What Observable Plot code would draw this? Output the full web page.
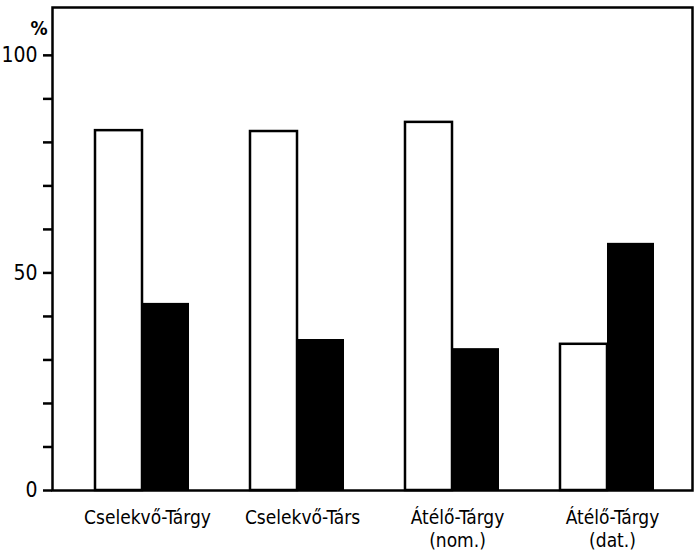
<!DOCTYPE html>
<html>
<head>
<meta charset="utf-8">
<script src="https://cdn.jsdelivr.net/npm/d3@7"></script>
<script src="https://cdn.jsdelivr.net/npm/@observablehq/plot@0.6"></script>
<style>
  body { margin: 0; background: white; }
</style>
</head>
<body>
<div id="chart"></div>
<script>
const categories = ["Cselekvő-Tárgy", "Cselekvő-Társ", "Átélő-Tárgy\n(nom.)", "Átélő-Tárgy\n(dat.)"];
const whiteValues = [82.7, 82.5, 84.6, 33.6];
const blackValues = [43.0, 34.7, 32.6, 56.8];
const yTicks = [0, 10, 20, 30, 40, 50, 60, 70, 80, 90, 100];
const yLabels = [0, 50, 100];
const unitLabel = "%";

const data = categories.map((c, i) => ({cat: c, white: whiteValues[i], black: blackValues[i]}));

const chart = Plot.plot({
  width: 694,
  height: 553,
  marginLeft: 52,
  marginRight: 2,
  marginTop: 7,
  marginBottom: 63,
  style: {fontFamily: "'DejaVu Sans Condensed', 'Liberation Sans Narrow', 'DejaVu Sans', sans-serif", background: "white", color: "black"},
  x: {domain: categories, range: [95, 654], paddingInner: 0.3935, paddingOuter: 0, round: false},
  y: {domain: [0, 111]},
  marks: [
    Plot.barY(data, {x: "cat", y: "white", fill: "white", stroke: "black", strokeWidth: 2.5, insetRight: 47}),
    Plot.barY(data, {x: "cat", y: "black", fill: "black", insetLeft: 47}),
    Plot.frame({stroke: "black", strokeWidth: 2.5}),
    Plot.axisY({ticks: yTicks, tickFormat: () => "", tickSize: 9, stroke: "black", strokeWidth: 2.5, label: null}),
    Plot.axisY({ticks: yLabels, tickSize: 9, tickPadding: 6, fontSize: 21, label: null}),
    Plot.axisX({tickSize: 0, tickPadding: 17, fontSize: 19, lineHeight: 1.22, dx: 5, label: null}),
    Plot.text([unitLabel], {frameAnchor: "top-left", dx: -22, dy: 14, fontSize: 19, fontWeight: "bold", fill: "black"})
  ]
});
document.getElementById("chart").appendChild(chart);
</script>
</body>
</html>
